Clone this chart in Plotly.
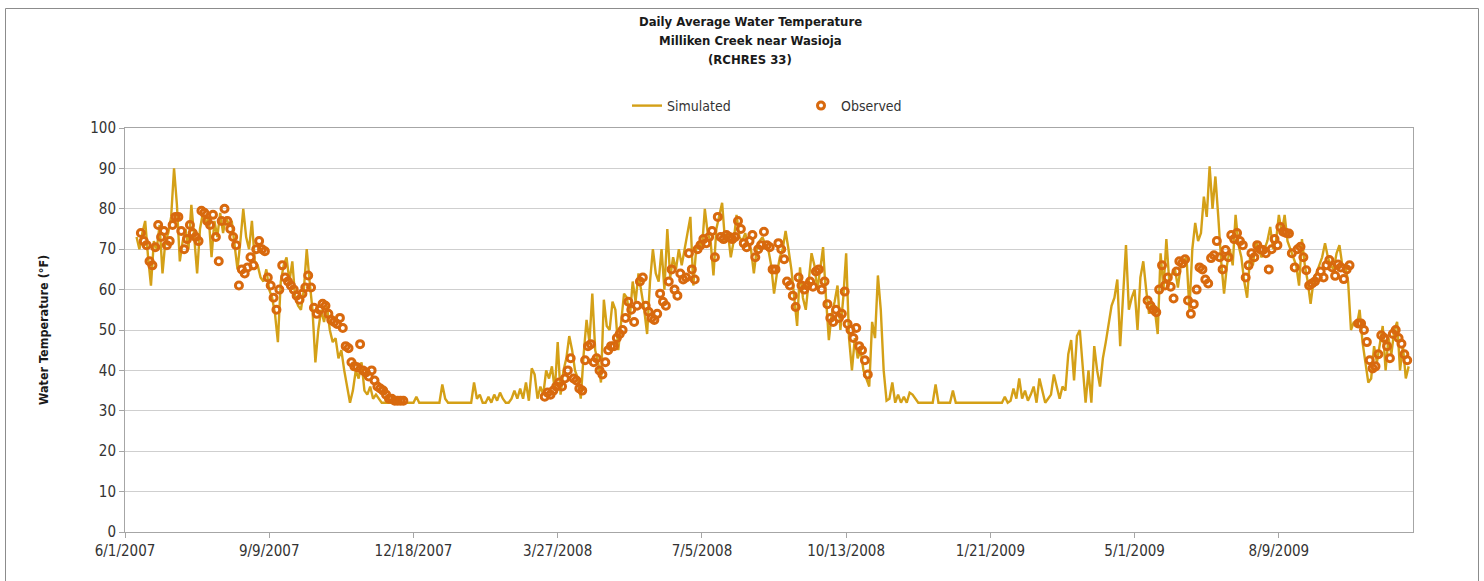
import pandas as pd
import plotly.graph_objects as go

# ---------------- data ----------------
# Simulated daily average water temperature (deg F), sampled every 2 days
sim_start = "2007-06-09"
sim_values = [
    73, 70, 74, 77, 68, 61, 72, 70, 76, 64, 72, 74,
    78, 90, 81, 67, 72, 75, 70, 81, 73, 64, 75, 79,
    76, 78, 68, 77, 73, 79, 74, 78, 76, 77, 71, 65,
    72, 80, 73, 70, 77, 67, 66, 63, 62, 65, 60, 58,
    54, 47, 62, 66, 68, 62, 67, 58, 56, 55, 60, 70,
    62, 55, 42, 50, 55, 52, 56, 50, 47, 48, 43, 45,
    40, 36, 32, 35, 40, 38, 42, 35, 34, 36, 33, 34,
    33, 32, 32, 32, 32, 32, 32, 32, 32, 32, 32, 32,
    32, 33.5, 32, 32, 32, 32, 32, 32, 32, 32, 36.5, 33,
    32, 32, 32, 32, 32, 32, 32, 32, 32, 37, 33, 34,
    32, 32, 33.5, 32, 34, 32.5, 34.5, 33, 32, 32, 33, 35,
    33, 35.5, 33, 37, 32.5, 40.5, 39, 33, 36, 34, 40, 38,
    41, 35, 47, 34, 40, 43, 48.5, 45, 40, 38, 33, 44,
    52.5, 47, 59, 45, 42, 37, 57.5, 51, 50, 57, 55, 45,
    52, 59, 58, 53, 62, 57, 64, 60, 55, 49, 62, 70,
    64, 62, 70, 60, 75, 63, 68, 65, 70, 66, 70, 74,
    78, 61, 70, 72, 70, 80, 74, 72, 63.5, 75, 78, 81.5,
    72, 74, 68, 72, 78.5, 73, 72, 74, 71, 70, 64, 70,
    72, 73, 71, 70, 66, 59, 64, 68, 70, 74.5, 70, 65,
    58, 51, 65.5, 58, 55, 62, 69, 66, 60, 65, 70.5, 58,
    47.5, 54, 57, 61, 50, 58, 69, 48, 40, 48, 43, 45,
    40, 38, 36, 52, 48, 63.5, 55, 40, 32.5, 33, 37, 32,
    34, 32, 33.5, 32, 34.5, 34, 33, 32, 32, 32, 32, 32,
    32, 36.5, 32, 32, 32, 32, 32, 35, 32, 32, 32, 32,
    32, 32, 32, 32, 32, 32, 32, 32, 32, 32, 32, 32,
    32, 33.5, 32, 32.5, 35.5, 33, 38, 33, 35, 32.5, 34, 36,
    32, 38, 35, 32, 33, 34, 39, 36, 33, 36, 35, 44,
    47.5, 37.5, 48.5, 50, 40, 32, 40, 32, 46, 40, 36, 43,
    47, 52, 56, 58, 62.5, 46, 58, 71, 55, 58, 60, 50,
    63, 67, 60, 54, 57, 55, 49, 69, 60, 72.5, 62, 64,
    65, 60.5, 66, 67, 68, 55, 70, 76.5, 72, 74, 83, 78,
    90.5, 80, 88, 78, 67, 59, 66, 70, 66, 78.5, 71, 68,
    62, 58, 68, 66, 72, 70, 68, 70, 72, 75.5, 70, 72,
    78.5, 74, 78.5, 72, 70, 68, 66, 61, 72.5, 66, 62, 56.5,
    62, 64, 66, 68, 71.5, 68, 66, 65, 69, 71, 66, 66,
    62, 50, 52, 51, 55, 47, 42, 37, 38, 46, 42, 46,
    51, 40, 48, 44, 50, 52, 40, 46, 38, 41,
]

# Observed water temperature (deg F), sampled every 2 days within each monitoring period
obs_2007_start = "2007-06-12"
obs_2007 = [
    74, 72, 71, 67, 66, 70.5, 76, 73, 74.5, 71,
    72, 76, 78, 78, 74.5, 70, 72.5, 76, 74, 73,
    72, 79.5, 79, 77, 76, 78.5, 73, 67, 77, 80,
    77, 75, 73, 71, 61, 65, 64, 65.5, 68, 66,
    70, 72, 70, 69.5, 63, 61, 58, 55, 60, 66,
    63, 62, 61, 60, 58.5, 57.5, 59, 60.5, 63.5, 60.5,
    55.5, 54, 55, 56.5, 56, 54, 52.5, 52, 51.5, 53,
    50.5, 46, 45.5, 42, 41, 40.8, 46.5, 40, 39.5, 38.5,
    40, 37.5, 36, 35.5, 35, 34, 33, 33, 32.5, 32.5,
    32.5, 32.5,
]
obs_2008_start = "2008-03-18"
obs_2008 = [
    33.5, 34.5, 34, 35, 36, 37, 36, 38, 40, 43,
    38, 37.5, 35.5, 35, 42.5, 46, 46.5, 42, 43, 40,
    39, 42, 45, 46, 46, 48, 49, 50, 53, 57,
    55, 52, 56, 62, 63, 56, 54.5, 53, 52.5, 54,
    59, 57, 56, 62, 65, 60, 58.5, 64, 62.5, 63,
    69, 65, 62.5, 70, 71, 72.5, 71.5, 73, 74.5, 68,
    78, 73, 72.5, 73.5, 73, 72.5, 73, 77, 75, 71.5,
    70.5, 72, 73.5, 68, 70, 71, 74.3, 71, 70.5, 65,
    65, 71.5, 70, 67.5, 62, 61, 58.5, 55.7, 63, 61,
    60, 61, 62, 60.7, 64.5, 65, 60, 62, 56.4, 53,
    52, 55, 53, 54, 59.5, 51.5, 50, 48, 50.5, 46,
    45, 42.5, 39,
]
obs_2009a_start = "2009-05-10"
obs_2009a = [
    57.3, 56, 55, 54.4, 60, 66, 61, 63, 60.7, 57.8,
    64.5, 67, 66.5, 67.5, 57.3, 54, 56.4, 60, 65.5, 65,
    62.5, 61.5, 67.8, 68.5, 72, 68, 65, 69.8, 68, 73.5,
    72.5, 74, 72, 71, 63, 66, 69, 68, 71, 70,
    69.8, 69, 65, 70, 72.5, 71, 75.5, 74.3, 74, 73.9,
    69, 65.5, 70, 70.6, 68, 64.8, 61, 61.5, 62, 63,
    64.5, 63, 66, 67.3, 65.5, 63.4, 66.2, 65.5, 62.6, 65,
    66,
]
obs_2009b_start = "2009-10-03"
obs_2009b = [
    51.6, 51.6, 50, 47, 42.5, 40.5, 41, 44, 48.7, 48,
    46, 43, 49, 50, 48, 46.6, 44, 42.5,
]

# Axis ticks
x_tick_dates = ["2007-06-01", "2007-09-09", "2007-12-18", "2008-03-27", "2008-07-05",
                "2008-10-13", "2009-01-21", "2009-05-01", "2009-08-09"]
x_tick_labels = ["6/1/2007", "9/9/2007", "12/18/2007", "3/27/2008", "7/5/2008",
                 "10/13/2008", "1/21/2009", "5/1/2009", "8/9/2009"]
y_tick_values = [0, 10, 20, 30, 40, 50, 60, 70, 80, 90, 100]

title_lines = ["Daily Average Water Temperature", "Milliken Creek near Wasioja", "(RCHRES 33)"]

# ---------------- build series ----------------
sim_dates = pd.date_range(sim_start, periods=len(sim_values), freq="2D")

obs_x, obs_y = [], []
for start, vals in [(obs_2007_start, obs_2007), (obs_2008_start, obs_2008),
                    (obs_2009a_start, obs_2009a), (obs_2009b_start, obs_2009b)]:
    obs_x.extend(pd.date_range(start, periods=len(vals), freq="2D"))
    obs_y.extend(vals)

FONT = "Liberation Sans Narrow, Arial Narrow, DejaVu Sans Condensed, Liberation Sans, Arial, sans-serif"
SIM_COLOR = "#D4A017"
OBS_COLOR = "#D8690E"

fig = go.Figure()
fig.add_trace(go.Scatter(
    x=sim_dates, y=sim_values, mode="lines", name="Simulated",
    line=dict(color=SIM_COLOR, width=2.4),
))
fig.add_trace(go.Scatter(
    x=obs_x, y=obs_y, mode="markers", name="Observed",
    marker=dict(symbol="circle-open", size=7, color=OBS_COLOR, line=dict(width=3)),
))

# Plot-area geometry in pixels (for placing text outside the axes)
W, H = 1484, 581
L, R, T, B = 125, 71, 128, 49
pw, ph = W - L - R, H - T - B


def px_x(x):
    return (x - L) / pw


def px_y(y):
    return (H - B - y) / ph


annotations = []
for text, ypx in zip(title_lines, [21, 40, 59]):
    annotations.append(dict(
        text=f"<b>{text}</b>", x=px_x(750), y=px_y(ypx), xref="paper", yref="paper",
        xanchor="center", yanchor="middle", showarrow=False,
        font=dict(family=FONT, size=13, color="#1a1a1a"),
    ))
annotations.append(dict(
    text="<b>Water Temperature (°F)</b>", x=px_x(43), y=0.5, xref="paper", yref="paper",
    xanchor="center", yanchor="middle", showarrow=False, textangle=-90,
    font=dict(family=FONT, size=12.5, color="#1a1a1a"),
))

fig.update_layout(
    width=W, height=H,
    margin=dict(l=L, r=R, t=T, b=B),
    paper_bgcolor="white", plot_bgcolor="white",
    font=dict(family=FONT, size=15, color="#333333"),
    showlegend=True,
    legend=dict(
        orientation="h", x=px_x(627), xanchor="left", y=px_y(106), yanchor="middle",
        entrywidth=129, entrywidthmode="pixels",
        font=dict(family=FONT, size=14, color="#333333"),
        bgcolor="rgba(0,0,0,0)",
    ),
    annotations=annotations,
    shapes=[dict(
        type="rect", xref="paper", yref="paper",
        x0=px_x(5.5), x1=px_x(1478.5), y0=px_y(592), y1=px_y(8.5),
        line=dict(color="#8c8c8c", width=1), fillcolor="rgba(0,0,0,0)", layer="below",
    )],
    xaxis=dict(
        type="date", range=["2007-06-01", "2009-11-10"],
        tickmode="array", tickvals=x_tick_dates, ticktext=x_tick_labels,
        ticks="outside", ticklen=5, tickcolor="#a6a6a6",
        showline=True, linecolor="#a6a6a6", linewidth=1, mirror=True,
        showgrid=False, zeroline=False,
        tickfont=dict(family=FONT, size=15, color="#333333"),
    ),
    yaxis=dict(
        range=[0, 100], tickmode="array", tickvals=y_tick_values,
        ticks="outside", ticklen=5, tickcolor="#a6a6a6",
        showline=True, linecolor="#a6a6a6", linewidth=1, mirror=True,
        showgrid=True, gridcolor="#cfcfcf", gridwidth=1, zeroline=False,
        tickfont=dict(family=FONT, size=15, color="#333333"),
    ),
)

fig.write_html("out.html")
